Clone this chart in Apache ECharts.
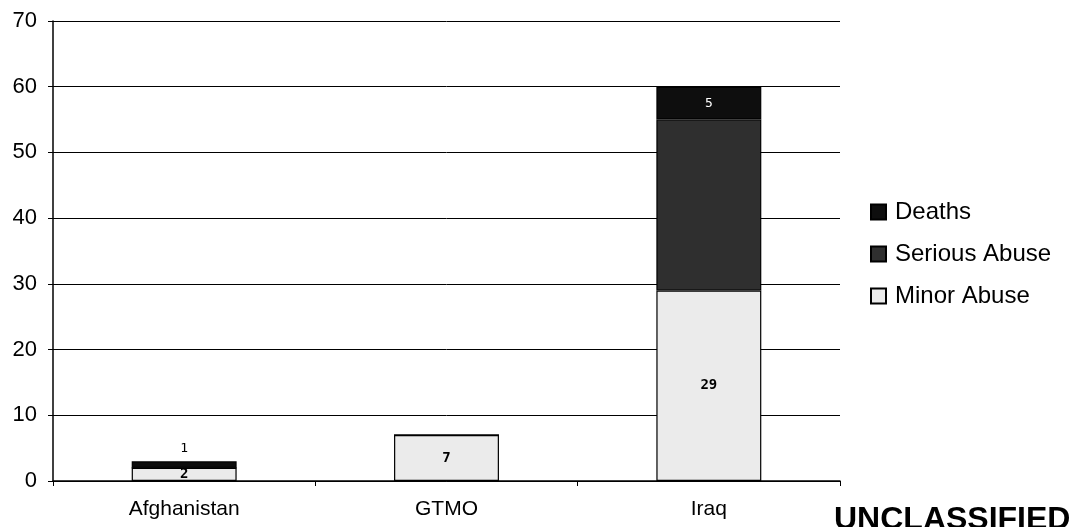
<!DOCTYPE html>
<html><head><meta charset="utf-8">
<script src="https://cdn.jsdelivr.net/npm/echarts@6/dist/echarts.min.js"></script>
<style>html,body{margin:0;padding:0;background:#fff}#c{width:1086px;height:527px}</style>
</head><body><div id="c"></div>
<script>
const categories = ['Afghanistan', 'GTMO', 'Iraq'];
const minorAbuse = [2, 7, 29];
const seriousAbuse = [0, 0, 26];
const deaths = [1, 0, 5];
const yTicks = [0, 10, 20, 30, 40, 50, 60, 70];

const chart = echarts.init(document.getElementById('c'));
const font = 'Liberation Sans, Arial, sans-serif';
const mono = 'DejaVu Sans Mono, monospace';
const hideZero = p => p.value ? String(p.value) : '';
chart.setOption({
  animation: false,
  grid: { left: 53, right: 246, top: 21, bottom: 46 },
  legend: {
    orient: 'vertical', left: 870, top: 200, padding: 0,
    itemWidth: 15, itemHeight: 15, itemGap: 18, icon: 'rect',
    textStyle: { fontSize: 24, fontFamily: font, color: '#000', padding: [0, 0, 0, 4] },
    data: ['Deaths', 'Serious Abuse', 'Minor Abuse']
  },
  xAxis: {
    type: 'category', data: categories,
    axisLine: { lineStyle: { color: '#000', width: 1.5 } },
    axisTick: { show: true, lineStyle: { color: '#000' } },
    axisLabel: { color: '#000', fontSize: 21, fontFamily: font, margin: 18 }
  },
  yAxis: {
    type: 'value', min: yTicks[0], max: yTicks[yTicks.length - 1], interval: 10,
    axisLine: { show: true, lineStyle: { color: '#000', width: 1.5 } },
    axisTick: { show: true, length: 5, lineStyle: { color: '#000' } },
    axisLabel: { color: '#000', fontSize: 22, fontFamily: font, margin: 16 },
    splitLine: { lineStyle: { color: '#000', width: 1 } }
  },
  series: [
    { name: 'Minor Abuse', type: 'bar', stack: 's', data: minorAbuse, barWidth: '40%',
      itemStyle: { color: '#ebebeb', borderColor: '#000', borderWidth: 1.2 },
      label: { show: true, position: 'inside', color: '#000', fontSize: 14,
               fontWeight: 'bold', fontFamily: mono, formatter: hideZero } },
    { name: 'Serious Abuse', type: 'bar', stack: 's', data: seriousAbuse,
      itemStyle: { color: '#2f2f2f', borderColor: '#000', borderWidth: 1.2 },
      label: { show: false } },
    { name: 'Deaths', type: 'bar', stack: 's',
      data: [
        { value: deaths[0], label: { position: 'top', color: '#000', distance: 6 } },
        { value: deaths[1] },
        { value: deaths[2], label: { position: 'inside', color: '#fff' } }
      ],
      itemStyle: { color: '#0e0e0e', borderColor: '#000', borderWidth: 1.2 },
      label: { show: true, fontSize: 13, fontFamily: mono, formatter: hideZero } }
  ],
  graphic: [{ type: 'text', left: 834, top: 504,
    style: { text: 'UNCLASSIFIED', font: 'bold 32px ' + font, fill: '#000' } }]
});
</script></body></html>
